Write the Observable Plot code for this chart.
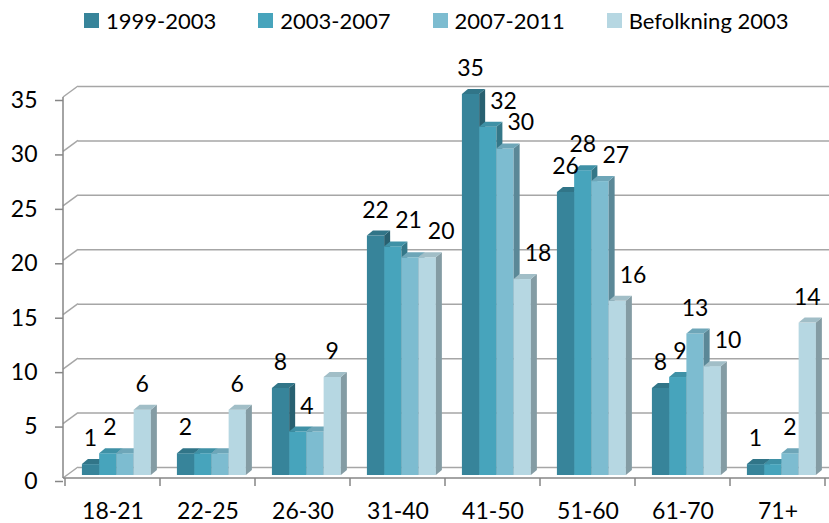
<!DOCTYPE html>
<html><head><meta charset="utf-8">
<script src="https://cdn.jsdelivr.net/npm/d3@7"></script>
<script src="https://cdn.jsdelivr.net/npm/@observablehq/plot@0.6"></script>
<style>
body{margin:0;background:#fff;font-family:Lato,"Open Sans",sans-serif;}
#legend{height:40px;display:flex;align-items:center;padding-left:84px;font-size:22px;color:#000;box-sizing:border-box;}
.item{display:flex;align-items:center;margin-right:42px;white-space:nowrap;}
.sw{width:15px;height:15px;margin-right:7px;}
#chart svg{overflow:visible;}
</style></head><body>
<div id="legend"></div>
<div id="chart"></div>
<script>
const categories = ["18-21","22-25","26-30","31-40","41-50","51-60","61-70","71+"];
const seriesNames = ["1999-2003","2003-2007","2007-2011","Befolkning 2003"];
const s1999 = [1,2,8,22,35,26,8,1];
const s2003 = [2,2,4,21,32,28,9,1];
const s2007 = [2,2,4,20,30,27,13,2];
const befolkning = [6,6,9,20,18,16,10,14];
const yTicks = [0,5,10,15,20,25,30,35];
const colors = ["#37849a","#47a4bc","#7dbcd0","#b6d7e2"];

const seriesValues = [s1999, s2003, s2007, befolkning];
const rows = [];
categories.forEach((cat, ci) => {
  seriesValues.forEach((vals, si) => {
    rows.push({cat, series: seriesNames[si], si, value: vals[ci], prev: si > 0 ? seriesValues[si-1][ci] : null});
  });
});

// legend
const legend = document.getElementById("legend");
seriesNames.forEach((n, i) => {
  const it = document.createElement("div"); it.className = "item";
  const sw = document.createElement("div"); sw.className = "sw"; sw.style.background = colors[i];
  const tx = document.createElement("span"); tx.textContent = n;
  it.appendChild(sw); it.appendChild(tx); legend.appendChild(it);
});

const W = 829, H = 483, ML = 63, MR = 3, MT = 57, MB = 45;
const DX = 15, DY = 11;   // back wall depth
const BD = 6, BDY = 5;    // bar depth
const FS = 23;
const gridColor = "#a6a6a6", axisColor = "#868686";

function walls(index, scales) {
  const y = scales.y, x = scales.x;
  const g = d3.create("svg:g").attr("fill", "none");
  const step = x(categories[1]) - x(categories[0]);
  yTicks.forEach(t => {
    g.append("line").attr("x1", ML).attr("y1", y(t)).attr("x2", ML + DX).attr("y2", y(t) - DY)
      .attr("stroke", gridColor).attr("stroke-width", 1.5);
  });
  g.append("line").attr("x1", ML).attr("x2", ML).attr("y1", y(0)).attr("y2", y(yTicks[yTicks.length-1]))
    .attr("stroke", axisColor).attr("stroke-width", 1.5);
  g.append("line").attr("x1", ML).attr("x2", W).attr("y1", y(0)).attr("y2", y(0))
    .attr("stroke", axisColor).attr("stroke-width", 1.5);
  categories.concat([null]).forEach((c) => {
    const xx = c === null ? x(categories[categories.length-1]) + step : x(c);
    g.append("line").attr("x1", xx).attr("x2", xx).attr("y1", y(0)).attr("y2", y(0) + 8)
      .attr("stroke", axisColor).attr("stroke-width", 1.5);
  });
  return g.node();
}

function bars(index, scales) {
  const x = scales.x, y = scales.y;
  const step = x(categories[1]) - x(categories[0]);
  const off = step * 0.178, bw = step * 0.1815;
  const g = d3.create("svg:g");
  rows.forEach(r => {
    const c = colors[r.si];
    const x1 = x(r.cat) + off + r.si * bw, x2 = x1 + bw;
    const yt = y(r.value) - 3, yb = y(0) - 3;
    g.append("rect").attr("x", x1).attr("y", yt).attr("width", bw).attr("height", yb - yt).attr("fill", c);
    g.append("polygon").attr("points", [[x2, yt], [x2 + BD, yt - BDY], [x2 + BD, yb - BDY], [x2, yb]].join(" "))
      .attr("fill", d3.color(c).darker(0.9).formatHex());
    g.append("polygon").attr("points", [[x1, yt], [x2, yt], [x2 + BD, yt - BDY], [x1 + BD, yt - BDY]].join(" "))
      .attr("fill", d3.color(c).darker(0.35).formatHex());
  });
  // labels, nudged right when the bar to the left is as tall or a previous label is in the way
  let last = null;
  rows.forEach(r => {
    if (r.si === 0) last = null;
    if (r.prev !== null && r.prev === r.value) return;
    const x1 = x(r.cat) + off + r.si * bw;
    const cy = y(r.value) - 29;
    const tw = String(r.value).length * FS * 0.58;
    let sx = (r.prev !== null && r.prev >= r.value) ? x1 + 11 : x1 + bw / 2 - tw / 2;
    if (last && Math.abs(last.cy - cy) < 16 && sx < last.right + 6) sx = last.right + 6;
    g.append("text").attr("x", sx).attr("y", cy).attr("dy", "0.35em")
      .attr("fill", "#000").attr("font-size", FS).attr("text-anchor", "start").text(r.value);
    last = {cy, right: sx + tw};
  });
  return g.node();
}

const chart = Plot.plot({
  width: W, height: H,
  marginLeft: ML, marginRight: MR, marginTop: MT, marginBottom: MB,
  style: {fontFamily: "Lato, 'Open Sans', sans-serif", fontSize: FS + "px", color: "#000", background: "#fff"},
  x: {type: "band", domain: categories, padding: 0},
  y: {domain: [0, 35]},
  marks: [
    Plot.ruleY(yTicks, {dx: DX, dy: -DY, stroke: gridColor, strokeWidth: 1.5}),
    walls,
    bars,
    Plot.axisY({ticks: yTicks, tickSize: 8, tickPadding: 18, stroke: axisColor, strokeWidth: 1.5, dy: 3}),
    Plot.axisX({tickSize: 0, tickPadding: 24})
  ]
});
document.getElementById("chart").appendChild(chart);
</script>
</body></html>
